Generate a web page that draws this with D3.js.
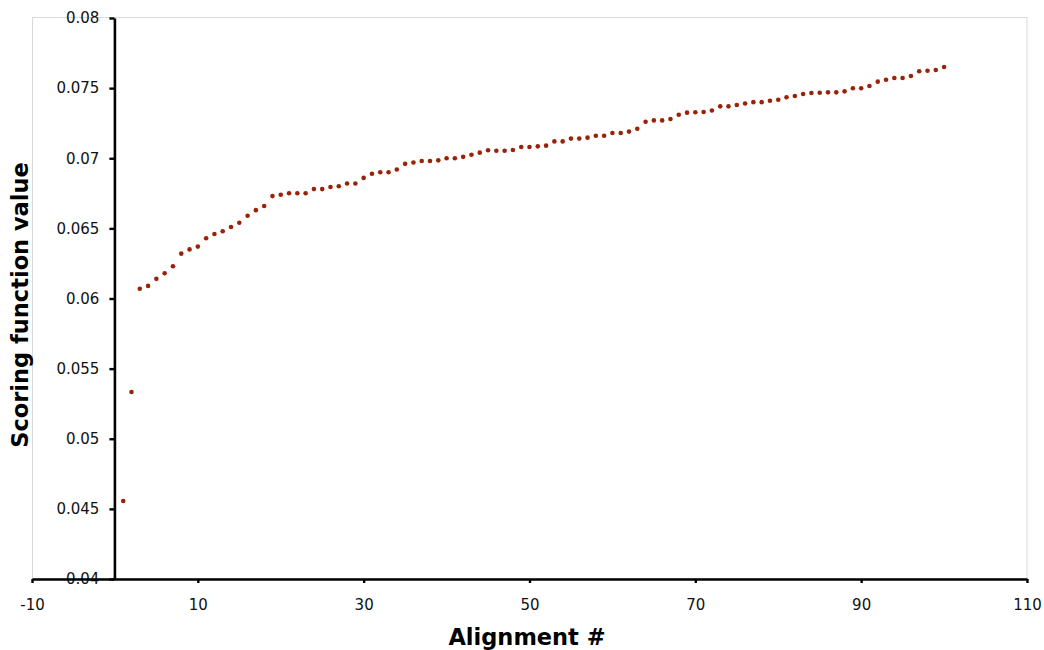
<!DOCTYPE html>
<html>
<head>
<meta charset="utf-8">
<script src="https://cdn.jsdelivr.net/npm/d3@7"></script>
<style>
  html, body { margin: 0; padding: 0; background: #fff; }
  svg { display: block; font-family: "DejaVu Sans", Verdana, sans-serif; }
</style>
</head>
<body>
<svg id="chart" width="1044" height="650"></svg>
<script>
const alignment = d3.range(1, 101);
const scores = [
  0.04556, 0.05333, 0.0607, 0.0609, 0.0614, 0.0618, 0.0623, 0.0632, 0.0635, 0.0637,
  0.0643, 0.0646, 0.0648, 0.0651, 0.0654, 0.0659, 0.0663, 0.0666, 0.0673, 0.0674,
  0.0675, 0.0675, 0.0675, 0.0678, 0.0678, 0.06795, 0.0680, 0.0682, 0.0682, 0.0686,
  0.0689, 0.0690, 0.0690, 0.0692, 0.0696, 0.0697, 0.0698, 0.0698, 0.06985, 0.0700,
  0.0700, 0.0701, 0.07025, 0.0704, 0.07057, 0.07054, 0.07054, 0.07059, 0.0708, 0.0708,
  0.07085, 0.0709, 0.0712, 0.0712, 0.0714, 0.0714, 0.07147, 0.0716, 0.0716, 0.0718,
  0.0718, 0.0719, 0.0721, 0.0726, 0.0727, 0.0727, 0.0728, 0.0731, 0.07325, 0.07328,
  0.0733, 0.0734, 0.0737, 0.0737, 0.0738, 0.0739, 0.0740, 0.0740, 0.0741, 0.07417,
  0.07435, 0.07444, 0.07458, 0.07465, 0.07467, 0.0747, 0.0747, 0.07477, 0.07499, 0.07499,
  0.07515, 0.07546, 0.0756, 0.07572, 0.07572, 0.07586, 0.0762, 0.07624, 0.07629, 0.07651
];
const xTicks = [-10, 10, 30, 50, 70, 90, 110];
const xTickLabels = ["-10", "10", "30", "50", "70", "90", "110"];
const yTicks = [0.04, 0.045, 0.05, 0.055, 0.06, 0.065, 0.07, 0.075, 0.08];
const yTickLabels = ["0.04", "0.045", "0.05", "0.055", "0.06", "0.065", "0.07", "0.075", "0.08"];
const xTitle = "Alignment #";
const yTitle = "Scoring function value";

const svg = d3.select("#chart");
const L = 32, R = 1027, T = 18, B = 579;

const x = d3.scaleLinear().domain([-10, 110]).range([L, R]);
const y = d3.scaleLinear().domain([0.04, 0.08]).range([B, T]);

// plot area border
svg.append("rect")
  .attr("x", L + 0.5).attr("y", T - 0.5)
  .attr("width", R - L - 0.5).attr("height", B - T)
  .attr("fill", "none").attr("stroke", "#d9d9d9").attr("stroke-width", 1);

// y axis at x = 0
const yAxis = d3.axisLeft(y).tickValues(yTicks)
  .tickFormat((d, i) => yTickLabels[i])
  .tickSize(5).tickSizeOuter(0).tickPadding(10);
const gy = svg.append("g").attr("transform", `translate(${x(0) - 0.5},0)`).call(yAxis);

// x axis at y = 0.04
const xAxis = d3.axisBottom(x).tickValues(xTicks)
  .tickFormat((d, i) => xTickLabels[i])
  .tickSize(4).tickSizeOuter(0).tickPadding(16);
const gx = svg.append("g").attr("transform", `translate(0,${y(0.04)})`).call(xAxis);

[gx, gy].forEach(g => {
  g.select(".domain").attr("stroke", "#000").attr("stroke-width", 2.6);
  g.selectAll(".tick line").attr("stroke", "#000").attr("stroke-width", 2.4);
  g.selectAll(".tick text").attr("fill", "#111").style("font-size", "15px")
    .style("font-family", "'DejaVu Sans', Verdana, sans-serif");
});

// points
svg.append("g").selectAll("circle")
  .data(alignment.map((a, i) => ({a, v: scores[i]})))
  .join("circle")
  .attr("cx", d => x(d.a))
  .attr("cy", d => y(d.v))
  .attr("r", 2.3)
  .attr("fill", "#9a2208");

// titles
svg.append("text")
  .attr("x", 527).attr("y", 645)
  .attr("text-anchor", "middle")
  .style("font-size", "22.5px").style("font-weight", "bold")
  .attr("fill", "#000")
  .text(xTitle);

svg.append("text")
  .attr("transform", `translate(28,305) rotate(-90)`)
  .attr("text-anchor", "middle")
  .style("font-size", "22.5px").style("font-weight", "bold")
  .attr("fill", "#000")
  .text(yTitle);
</script>
</body>
</html>
